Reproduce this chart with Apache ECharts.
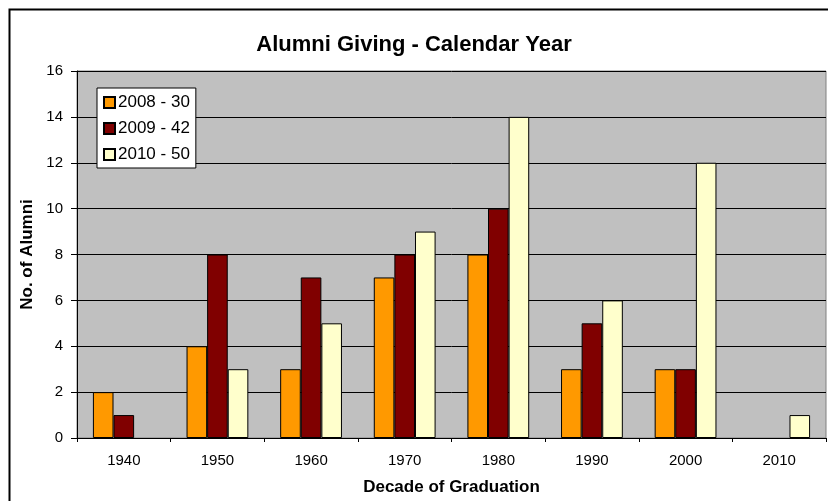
<!DOCTYPE html>
<html>
<head>
<meta charset="utf-8">
<script src="https://cdn.jsdelivr.net/npm/echarts@6/dist/echarts.min.js"></script>
<style>
  html, body { margin: 0; padding: 0; background: #fff; }
  #chart { width: 828px; height: 501px; }
</style>
</head>
<body>
<div id="chart"></div>
<script>
// decades on the x axis
var decades = ['1940', '1950', '1960', '1970', '1980', '1990', '2000', '2010'];
// number of alumni giving, per year
var giving2008 = [2, 4, 3, 7, 8, 3, 3, 0];
var giving2009 = [1, 8, 7, 8, 10, 5, 3, 0];
var giving2010 = [0, 3, 5, 9, 14, 6, 12, 1];
var seriesNames = ['2008 - 30', '2009 - 42', '2010 - 50'];
var seriesColors = ['#FF9900', '#800000', '#FFFFCC'];

var myChart = echarts.init(document.getElementById('chart'));
var fontFam = '"Liberation Sans", Arial, sans-serif';

function makeBar(i, data) {
  return {
    name: seriesNames[i],
    type: 'bar',
    // zero values get no bar (otherwise the border shows as a flat line)
    data: data.map(function (v) { return v === 0 ? '-' : v; }),
    barGap: 0,
    barCategoryGap: '34%',
    itemStyle: { color: seriesColors[i], borderColor: '#000', borderWidth: 1 },
    emphasis: { disabled: true }
  };
}

var option = {
  animation: false,
  textStyle: { fontFamily: fontFam },
  title: {
    text: 'Alumni Giving - Calendar Year',
    left: 'center',
    top: 29,
    textStyle: { fontSize: 22, fontWeight: 'bold', color: '#000', fontFamily: fontFam }
  },
  graphic: [{
    type: 'rect',
    shape: { x: 9.5, y: 9.5, width: 900, height: 600 },
    style: { fill: 'none', stroke: '#000', lineWidth: 2 },
    z: -1
  }],
  legend: {
    orient: 'vertical',
    left: 97,
    top: 88,
    data: seriesNames,
    icon: 'rect',
    itemWidth: 11,
    itemHeight: 11,
    itemGap: 9,
    padding: [6, 6, 5, 6],
    backgroundColor: '#fff',
    borderColor: '#000',
    borderWidth: 1,
    textStyle: { fontSize: 17, color: '#000', fontFamily: fontFam, padding: [0, 0, 0, -2] }
  },
  grid: {
    left: 77,
    right: 2,
    top: 71,
    bottom: 62,
    show: true,
    backgroundColor: '#C0C0C0',
    borderColor: '#808080',
    borderWidth: 1
  },
  xAxis: {
    type: 'category',
    data: decades,
    name: 'Decade of Graduation',
    nameLocation: 'middle',
    nameGap: 41,
    nameTextStyle: { fontSize: 17, fontWeight: 'bold', color: '#000' },
    axisLine: { lineStyle: { color: '#000' } },
    axisTick: { show: true, length: 4, lineStyle: { color: '#000' } },
    axisLabel: { fontSize: 15, color: '#000', margin: 15, interval: 0 },
    splitLine: { show: false }
  },
  yAxis: {
    type: 'value',
    min: 0,
    max: 16,
    interval: 2,
    name: 'No. of Alumni',
    nameLocation: 'middle',
    nameGap: 37,
    nameTextStyle: { fontSize: 17, fontWeight: 'bold', color: '#000' },
    axisLine: { show: true, lineStyle: { color: '#000' } },
    axisTick: { show: true, length: 6, lineStyle: { color: '#000' } },
    axisLabel: { fontSize: 15, color: '#000', margin: 14 },
    splitLine: { show: true, lineStyle: { color: '#000', width: 1 } }
  },
  series: [
    makeBar(0, giving2008),
    makeBar(1, giving2009),
    makeBar(2, giving2010)
  ]
};

myChart.setOption(option);
</script>
</body>
</html>
